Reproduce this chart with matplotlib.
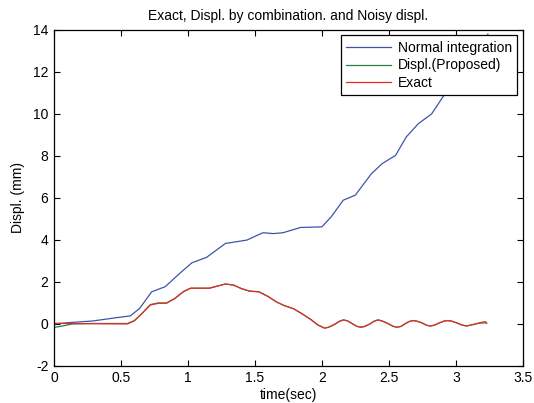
import matplotlib
matplotlib.use("Agg")
import matplotlib.pyplot as plt

plt.rcParams['font.family'] = ['Liberation Sans', 'DejaVu Sans']
plt.rcParams['axes.unicode_minus'] = False

# normal integration (blue)
t_normal = [0, 0.11, 0.29, 0.47, 0.57, 0.64, 0.73, 0.83, 0.94, 1.03, 1.14, 1.28, 1.44, 1.56,
            1.64, 1.71, 1.84, 2.0, 2.07, 2.16, 2.25, 2.37, 2.45, 2.55, 2.63, 2.72, 2.82, 2.91,
            3.0, 3.08, 3.16, 3.24]
d_normal = [0.0, 0.06, 0.14, 0.30, 0.38, 0.74, 1.53, 1.77, 2.41, 2.91, 3.17, 3.83, 3.99, 4.34,
            4.30, 4.34, 4.59, 4.62, 5.10, 5.89, 6.13, 7.15, 7.63, 8.02, 8.90, 9.53, 10.0, 10.87,
            11.6, 12.3, 13.0, 13.8]

# exact (red)
t_exact = [0, 0.1, 0.3, 0.55, 0.6, 0.65, 0.72, 0.78, 0.84, 0.9, 0.97, 1.02, 1.1, 1.16, 1.22,
           1.28, 1.34, 1.40, 1.46, 1.53, 1.60, 1.66, 1.72, 1.79, 1.86, 1.92, 1.97, 2.02,
           2.05, 2.09, 2.13, 2.16, 2.19, 2.22, 2.26, 2.29, 2.32, 2.36, 2.39, 2.42, 2.45, 2.49,
           2.53, 2.56, 2.59, 2.62, 2.65, 2.68, 2.71, 2.75, 2.78, 2.81, 2.84, 2.87, 2.91, 2.94,
           2.97, 3.01, 3.05, 3.08, 3.13, 3.18, 3.22, 3.23]
d_exact = [0.03, 0.02, 0.01, 0.0, 0.15, 0.45, 0.90, 0.98, 0.99, 1.20, 1.55, 1.70, 1.70, 1.70,
           1.80, 1.90, 1.85, 1.68, 1.56, 1.53, 1.30, 1.05, 0.87, 0.72, 0.45, 0.20, -0.05, -0.20,
           -0.16, -0.04, 0.12, 0.19, 0.15, 0.04, -0.11, -0.16, -0.12, 0.0, 0.13, 0.19, 0.14,
           0.03, -0.11, -0.16, -0.12, 0.0, 0.11, 0.16, 0.13, 0.04, -0.06, -0.10, -0.06, 0.03,
           0.13, 0.16, 0.13, 0.04, -0.06, -0.10, -0.03, 0.06, 0.11, 0.03]

# proposed (green) - follows exact, offset at the start
t_prop = [0, 0.07, 0.14, 0.3, 0.55, 0.6, 0.65, 0.72, 0.78, 0.84, 0.9, 0.97, 1.02, 1.1, 1.16,
          1.22, 1.28, 1.34, 1.40, 1.46, 1.53, 1.60, 1.66, 1.72, 1.79, 1.86, 1.92, 1.97, 2.02,
          2.05, 2.09, 2.13, 2.16, 2.19, 2.22, 2.26, 2.29, 2.32, 2.36, 2.39, 2.42, 2.45, 2.49,
          2.53, 2.56, 2.59, 2.62, 2.65, 2.68, 2.71, 2.75, 2.78, 2.81, 2.84, 2.87, 2.91, 2.94,
          2.97, 3.01, 3.05, 3.08, 3.13, 3.18, 3.23]
d_prop = [-0.17, -0.09, 0.0, 0.02, 0.02, 0.15, 0.45, 0.92, 1.0, 0.99, 1.20, 1.55, 1.70, 1.70,
          1.70, 1.80, 1.90, 1.85, 1.68, 1.56, 1.53, 1.30, 1.05, 0.87, 0.72, 0.45, 0.20, -0.05,
          -0.20, -0.16, -0.04, 0.12, 0.19, 0.15, 0.04, -0.11, -0.16, -0.12, 0.0, 0.13, 0.19,
          0.14, 0.03, -0.11, -0.16, -0.12, 0.0, 0.11, 0.16, 0.13, 0.04, -0.06, -0.10, -0.06,
          0.03, 0.13, 0.16, 0.13, 0.04, -0.06, -0.10, -0.03, 0.04, 0.05]

fig = plt.figure(figsize=(5.34, 4.03), dpi=100)
ax = fig.add_axes([0.101, 0.092, 0.878, 0.834])

ax.plot(t_normal, d_normal, color='#3c55a8', lw=0.9, label='Normal integration')
ax.plot(t_prop, d_prop, color='#2e7d3a', lw=0.9, label='Displ.(Proposed)')
ax.plot(t_exact, d_exact, color='#e0302a', lw=0.9, label='Exact')

ax.set_xlim(0, 3.5)
ax.set_ylim(-2, 14)
ax.set_xticks([0, 0.5, 1, 1.5, 2, 2.5, 3, 3.5])
ax.set_xticklabels(['0', '0.5', '1', '1.5', '2', '2.5', '3', '3.5'])
ax.set_yticks(range(-2, 15, 2))
ax.tick_params(direction='in', top=True, right=True, length=4, width=0.8,
               labelsize=10, pad=4)
for s in ax.spines.values():
    s.set_linewidth(0.9)

ax.set_title('Exact, Displ. by combination. and Noisy displ.', fontsize=10, pad=7)
ax.set_xlabel('time(sec)', fontsize=10, labelpad=2)
ax.set_ylabel('Displ. (mm)', fontsize=10, labelpad=6)

leg = ax.legend(loc='upper right', fontsize=10, fancybox=False, framealpha=1,
                edgecolor='black', borderaxespad=0.4, handlelength=3.2,
                handletextpad=0.5, labelspacing=0.25, borderpad=0.4)
leg.get_frame().set_linewidth(0.9)

fig.savefig('out.png', dpi=100)
